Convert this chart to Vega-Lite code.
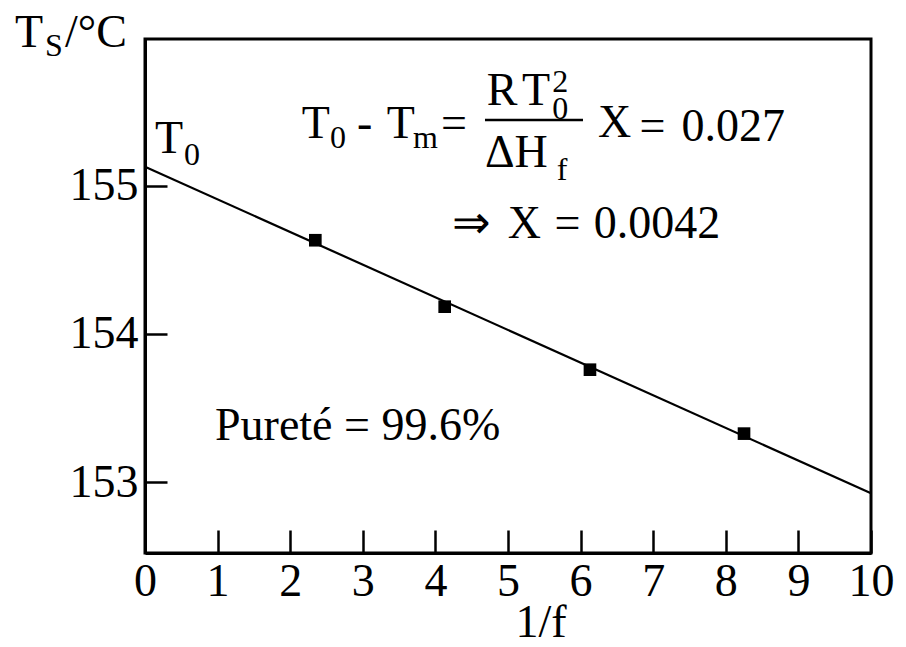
{
  "$schema": "https://vega.github.io/schema/vega-lite/v6.json",
  "width": 726,
  "height": 514,
  "autosize": {"type": "none"},
  "padding": {"left": 145, "top": 39, "right": 35, "bottom": 94},
  "background": "white",
  "config": {
    "font": "Liberation Serif",
    "view": {"stroke": "black", "strokeWidth": 3},
    "axis": {"grid": false}
  },
  "datasets": {
    "measurements": [
      {"inv_f": 2.346, "ts": 154.632},
      {"inv_f": 4.128, "ts": 154.184},
      {"inv_f": 6.129, "ts": 153.759},
      {"inv_f": 8.251, "ts": 153.328}
    ],
    "fit": [
      {"inv_f": 0, "ts": 155.128},
      {"inv_f": 10, "ts": 152.926}
    ],
    "text_main": [
      {"label": "T", "inv_f": -1.791, "ts": 155.935},
      {"label": "/°C", "inv_f": -1.102, "ts": 155.935},
      {"label": "T", "inv_f": 0.138, "ts": 155.22},
      {"label": "T", "inv_f": 2.158, "ts": 155.322},
      {"label": "-", "inv_f": 2.92, "ts": 155.322},
      {"label": "T", "inv_f": 3.329, "ts": 155.322},
      {"label": "=", "inv_f": 4.077, "ts": 155.322},
      {"label": "R", "inv_f": 4.706, "ts": 155.544},
      {"label": "T", "inv_f": 5.193, "ts": 155.544},
      {"label": "ΔH", "inv_f": 4.683, "ts": 155.128},
      {"label": "X", "inv_f": 6.24, "ts": 155.329},
      {"label": "=", "inv_f": 6.81, "ts": 155.302},
      {"label": "0.027", "inv_f": 7.39, "ts": 155.302},
      {"label": "⇒", "inv_f": 4.222, "ts": 154.645},
      {"label": "X", "inv_f": 4.997, "ts": 154.645},
      {"label": "=", "inv_f": 5.64, "ts": 154.645},
      {"label": "0.0042", "inv_f": 6.18, "ts": 154.645},
      {"label": "Pureté = 99.6%", "inv_f": 0.964, "ts": 153.285}
    ],
    "text_small": [
      {"label": "S", "inv_f": -1.377, "ts": 155.875},
      {"label": "0", "inv_f": 0.537, "ts": 155.14},
      {"label": "0", "inv_f": 2.548, "ts": 155.254},
      {"label": "m", "inv_f": 3.691, "ts": 155.254},
      {"label": "0", "inv_f": 5.61, "ts": 155.45},
      {"label": "2", "inv_f": 5.61, "ts": 155.632},
      {"label": "f", "inv_f": 5.671, "ts": 155.038}
    ],
    "frac_bar": [
      {"inv_f": 4.683, "inv_f_end": 6.033, "ts": 155.443}
    ]
  },
  "layer": [
    {
      "data": {"name": "fit"},
      "mark": {"type": "line", "color": "black", "strokeWidth": 2.2},
      "encoding": {
        "x": {"field": "inv_f", "type": "quantitative",
              "scale": {"domain": [0, 10], "nice": false, "zero": false},
              "axis": {
                "values": [0, 1, 2, 3, 4, 5, 6, 7, 8, 9, 10],
                "format": "d",
                "domainColor": "black", "domainWidth": 3,
                "tickColor": "black", "tickWidth": 2.5, "tickSize": -23,
                "labelFontSize": 46, "labelColor": "black",
                "labelBaseline": "alphabetic", "labelPadding": 65,
                "labelFlush": false, "labelOverlap": false,
                "title": "1/f", "titleFontSize": 46, "titleFontWeight": "normal",
                "titleColor": "black", "titleX": 395.5, "titleY": 83,
                "titleAlign": "center", "titleBaseline": "alphabetic"
              }},
        "y": {"field": "ts", "type": "quantitative",
              "scale": {"domain": [152.523, 155.989], "nice": false, "zero": false},
              "axis": {
                "values": [153, 154, 155],
                "format": "d",
                "domainColor": "black", "domainWidth": 3,
                "tickColor": "black", "tickWidth": 2.5, "tickSize": -22,
                "labelFontSize": 46, "labelColor": "black",
                "labelPadding": 29, "labelFlush": false, "labelOverlap": false,
                "title": null
              }}
      }
    },
    {
      "data": {"name": "measurements"},
      "mark": {"type": "point", "shape": "square", "filled": true, "color": "black", "opacity": 1, "size": 160},
      "encoding": {
        "x": {"field": "inv_f", "type": "quantitative"},
        "y": {"field": "ts", "type": "quantitative"}
      }
    },
    {
      "data": {"name": "frac_bar"},
      "mark": {"type": "rule", "color": "black", "strokeWidth": 2.5},
      "encoding": {
        "x": {"field": "inv_f", "type": "quantitative"},
        "x2": {"field": "inv_f_end"},
        "y": {"field": "ts", "type": "quantitative"}
      }
    },
    {
      "data": {"name": "text_main"},
      "mark": {"type": "text", "align": "left", "baseline": "alphabetic", "fontSize": 46, "color": "black"},
      "encoding": {
        "x": {"field": "inv_f", "type": "quantitative"},
        "y": {"field": "ts", "type": "quantitative"},
        "text": {"field": "label"}
      }
    },
    {
      "data": {"name": "text_small"},
      "mark": {"type": "text", "align": "left", "baseline": "alphabetic", "fontSize": 32, "color": "black"},
      "encoding": {
        "x": {"field": "inv_f", "type": "quantitative"},
        "y": {"field": "ts", "type": "quantitative"},
        "text": {"field": "label"}
      }
    }
  ]
}
